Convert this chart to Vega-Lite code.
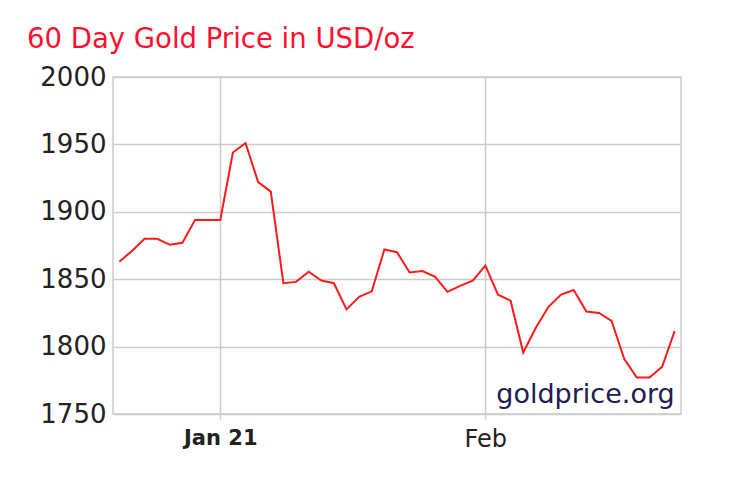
{
  "$schema": "https://vega.github.io/schema/vega-lite/v6.json",
  "autosize": {"type": "none"},
  "width": 568,
  "height": 337,
  "padding": {"left": 113, "top": 77, "right": 57, "bottom": 63},
  "background": "#ffffff",
  "title": {
    "text": "60 Day Gold Price in USD/oz",
    "anchor": "start",
    "frame": "group",
    "dx": -86,
    "offset": 11,
    "font": "DejaVu Sans",
    "fontSize": 27.5,
    "fontWeight": "normal",
    "color": "#ff1030"
  },
  "config": {
    "view": {"stroke": "#cccccc", "strokeWidth": 1.5},
    "font": "DejaVu Sans"
  },
  "data": {
    "values": [
      {"date": "2020-12-22", "price": 1863},
      {"date": "2020-12-23", "price": 1871},
      {"date": "2020-12-24", "price": 1880},
      {"date": "2020-12-25", "price": 1880},
      {"date": "2020-12-28", "price": 1875.5},
      {"date": "2020-12-29", "price": 1877},
      {"date": "2020-12-30", "price": 1894},
      {"date": "2020-12-31", "price": 1894},
      {"date": "2021-01-01", "price": 1894},
      {"date": "2021-01-04", "price": 1944},
      {"date": "2021-01-05", "price": 1951},
      {"date": "2021-01-06", "price": 1922},
      {"date": "2021-01-07", "price": 1915},
      {"date": "2021-01-08", "price": 1847},
      {"date": "2021-01-11", "price": 1848},
      {"date": "2021-01-12", "price": 1855.5},
      {"date": "2021-01-13", "price": 1849},
      {"date": "2021-01-14", "price": 1847},
      {"date": "2021-01-15", "price": 1827.6},
      {"date": "2021-01-18", "price": 1837},
      {"date": "2021-01-19", "price": 1841},
      {"date": "2021-01-20", "price": 1872},
      {"date": "2021-01-21", "price": 1870},
      {"date": "2021-01-22", "price": 1855},
      {"date": "2021-01-25", "price": 1856},
      {"date": "2021-01-26", "price": 1852},
      {"date": "2021-01-27", "price": 1840.6},
      {"date": "2021-01-28", "price": 1845},
      {"date": "2021-01-29", "price": 1849},
      {"date": "2021-02-01", "price": 1860},
      {"date": "2021-02-02", "price": 1838.5},
      {"date": "2021-02-03", "price": 1834},
      {"date": "2021-02-04", "price": 1795.6},
      {"date": "2021-02-05", "price": 1814},
      {"date": "2021-02-08", "price": 1829.5},
      {"date": "2021-02-09", "price": 1838.6},
      {"date": "2021-02-10", "price": 1842},
      {"date": "2021-02-11", "price": 1826},
      {"date": "2021-02-12", "price": 1825},
      {"date": "2021-02-15", "price": 1819},
      {"date": "2021-02-16", "price": 1791},
      {"date": "2021-02-17", "price": 1777},
      {"date": "2021-02-18", "price": 1777},
      {"date": "2021-02-19", "price": 1785},
      {"date": "2021-02-22", "price": 1811.6}
    ]
  },
  "encoding": {
    "x": {
      "field": "date",
      "type": "ordinal",
      "scale": {"type": "point", "padding": 0.5},
      "axis": {
        "title": null,
        "values": ["2021-01-01", "2021-02-01"],
        "labelExpr": "datum.value == '2021-01-01' ? 'Jan 21' : 'Feb'",
        "labelAngle": 0,
        "labelFontSize": {"condition": {"test": "datum.value == '2021-01-01'", "value": 21}, "value": 24},
        "labelFontWeight": {"condition": {"test": "datum.value == '2021-01-01'", "value": "bold"}, "value": "normal"},
        "labelColor": "#222222",
        "labelPadding": 8,
        "grid": true,
        "gridColor": "#cccccc",
        "gridWidth": 1.5,
        "domain": false,
        "ticks": true,
        "tickSize": 5,
        "tickColor": "#cccccc",
        "tickWidth": 1.5
      }
    },
    "y": {
      "field": "price",
      "type": "quantitative",
      "scale": {"domain": [1750, 2000], "nice": false, "zero": false},
      "axis": {
        "title": null,
        "values": [1750, 1800, 1850, 1900, 1950, 2000],
        "format": "d",
        "labelFontSize": 26,
        "labelColor": "#222222",
        "labelPadding": 7,
        "ticks": false,
        "tickSize": 0,
        "domain": false,
        "grid": true,
        "gridColor": "#cccccc",
        "gridWidth": 1.5
      }
    }
  },
  "layer": [
    {
      "mark": {"type": "line", "color": "#ff1a1a", "strokeWidth": 2}
    },
    {
      "transform": [{"filter": "datum.date == '2021-02-22'"}],
      "mark": {"type": "text", "align": "right", "baseline": "alphabetic", "dy": -11, "fontSize": 27, "color": "#20204f"},
      "encoding": {
        "text": {"value": "goldprice.org"},
        "y": {"datum": 1750}
      }
    }
  ]
}
